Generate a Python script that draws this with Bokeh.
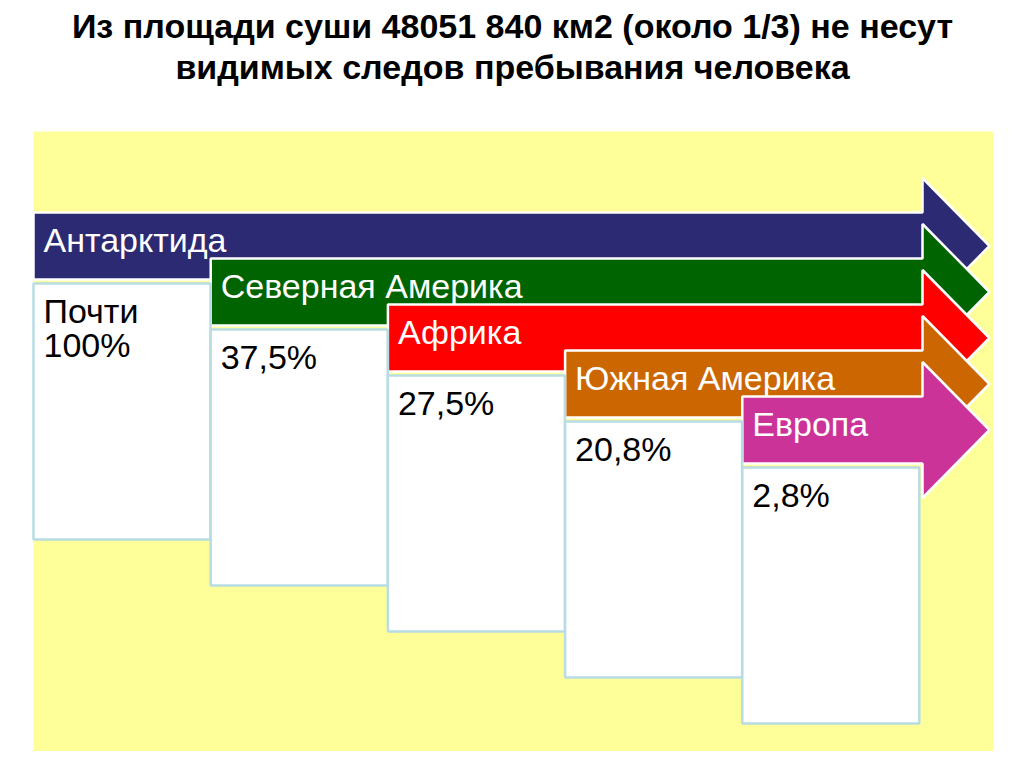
from bokeh.plotting import figure
from bokeh.models import Range1d
from bokeh.core.properties import value
from bokeh.embed import file_html
from bokeh.resources import INLINE

# ---- data ----
title_lines = ["Из площади суши 48051 840 км2 (около 1/3) не несут",
               "видимых следов пребывания человека"]
regions = ["Антарктида", "Северная Америка", "Африка", "Южная Америка", "Европа"]
shares = ["Почти\n100%", "37,5%", "27,5%", "20,8%", "2,8%"]
colors = ["#2B2A72", "#006400", "#FF0000", "#CC6600", "#CC3399"]

# ---- layout (pixel-like coordinates) ----
X0, DX = 33, 177.2
Y0, DY = 212, 46
BODY_H = 67
HEAD_X, TIP_X, HEAD_HALF = 922, 989, 68
BOX_W, BOX_H, BOX_GAP = 177, 256, 4
FONT = "Liberation Sans"

p = figure(width=1008, height=751, output_backend="svg", toolbar_location=None,
           x_range=Range1d(0, 1008), y_range=Range1d(751, 0),
           min_border=0, outline_line_color=None)
p.axis.visible = False
p.grid.visible = False
p.background_fill_color = "white"
p.border_fill_color = "white"

# yellow panel
p.quad(left=[33], right=[993], top=[131], bottom=[767], fill_color="#FFFF99",
       line_color=None)

xs, ys, box_l, box_r, box_t, box_b = [], [], [], [], [], []
lab_x, lab_y, val_x, val_y = [], [], [], []
for i, name in enumerate(regions):
    left = X0 + i * DX
    top = Y0 + i * DY
    bot = top + BODY_H
    c = (top + bot) / 2
    xs.append([left, HEAD_X, HEAD_X, TIP_X, HEAD_X, HEAD_X, left])
    ys.append([top, top, c - HEAD_HALF, c, c + HEAD_HALF, bot, bot])
    bt = bot + BOX_GAP
    box_l.append(left)
    box_r.append(left + BOX_W)
    box_t.append(bt)
    box_b.append(bt + BOX_H)
    lab_x.append(left + 10)
    lab_y.append(top + 27)
    val_x.append(left + 10)
    val_y.append(bt + 8)

p.patches(xs=xs, ys=ys, fill_color=colors, line_color="white", line_width=2.5)
p.quad(left=box_l, right=box_r, top=box_t, bottom=box_b, fill_color="white",
       line_color="#B8DCE4", line_width=2.5)

p.text(x=lab_x, y=lab_y, text=regions, text_color="white",
       text_font=value(FONT), text_font_size="34px", text_baseline="middle")
p.text(x=val_x, y=val_y, text=shares, text_color="black",
       text_font=value(FONT), text_font_size="34px", text_baseline="top",
       text_line_height=0.9)

p.text(x=[512, 512], y=[25, 66], text=title_lines, text_color="black",
       text_font=value(FONT), text_font_style="bold", text_font_size="34px",
       text_align="center", text_baseline="middle")

open("out.html", "w").write(file_html(p, INLINE))
